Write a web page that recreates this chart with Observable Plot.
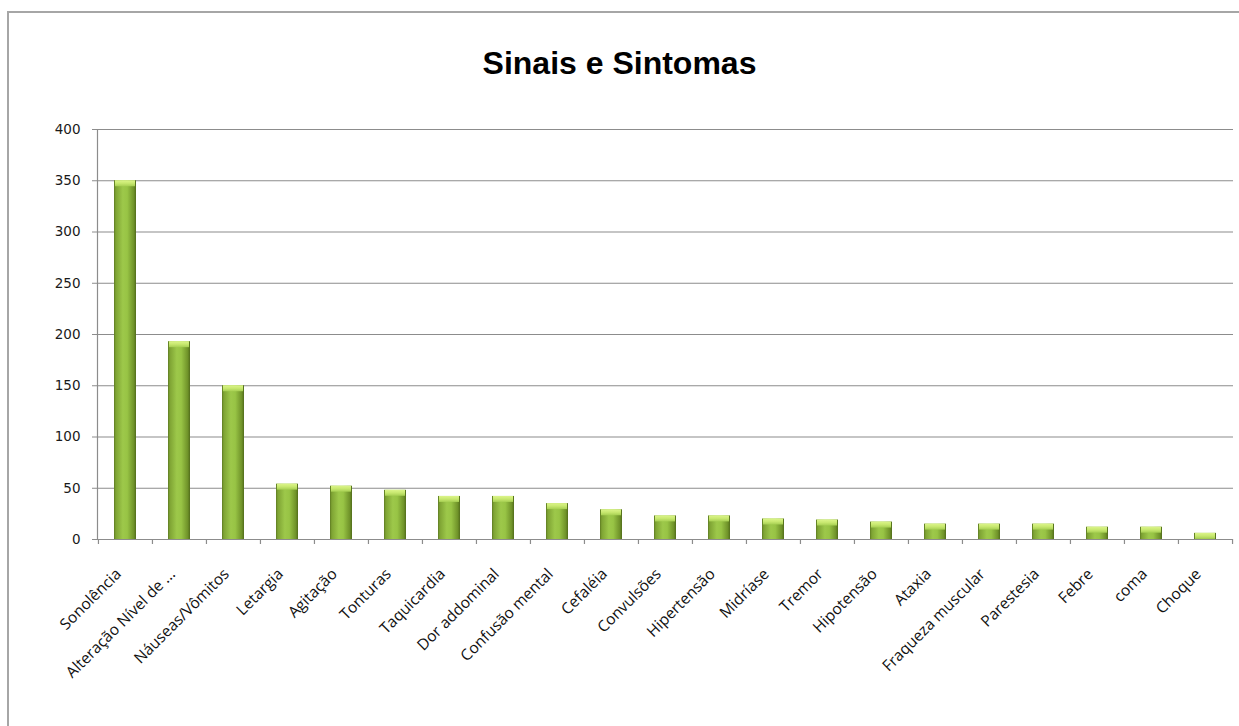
<!DOCTYPE html>
<html>
<head>
<meta charset="utf-8">
<script src="https://cdn.jsdelivr.net/npm/d3@7"></script>
<script src="https://cdn.jsdelivr.net/npm/@observablehq/plot@0.6"></script>
<style>
  html, body { margin: 0; padding: 0; background: #fff; width: 1239px; height: 726px; overflow: hidden; }
  #wrap { position: relative; width: 1239px; height: 726px; }
  #frame { position: absolute; left: 7px; top: 11px; width: 1240px; height: 730px;
           border-left: 2px solid #a6a6a6; border-top: 2px solid #a6a6a6; box-sizing: border-box; }
  #title { position: absolute; left: 0; width: 1239px; top: 45px; text-align: center;
           font-family: "Liberation Sans", Arial, sans-serif; font-weight: bold; font-size: 32px; color: #000; }
  #chart { position: absolute; left: 0; top: 0; }
</style>
</head>
<body>
<div id="wrap">
  <div id="frame"></div>
  <div id="chart"></div>
  <div id="title">Sinais e Sintomas</div>
</div>
<script>
const categories = ["Sonolência", "Alteração Nível de ...", "Náuseas/Vômitos", "Letargia", "Agitação",
  "Tonturas", "Taquicardia", "Dor addominal", "Confusão mental", "Cefaléia", "Convulsões",
  "Hipertensão", "Midríase", "Tremor", "Hipotensão", "Ataxia", "Fraqueza muscular",
  "Parestesia", "Febre", "coma", "Choque"];
const values = [350, 193, 150, 54, 52, 48, 42, 42, 35, 29, 23, 23, 20, 19, 17, 15, 15, 15, 12, 12, 6];
const yTicks = [0, 50, 100, 150, 200, 250, 300, 350, 400];

const data = categories.map((c, i) => ({cat: c, v: values[i]}));

const W = 1239, H = 726;
const mL = 97, mR = 6, mT = 129, mB = 187;
const band = (W - mL - mR) / categories.length;
const axisGray = "#8c8c8c";

const plot = Plot.plot({
  width: W, height: H,
  marginLeft: mL, marginRight: mR, marginTop: mT, marginBottom: mB,
  style: {fontFamily: "'Open Sans', sans-serif", fontSize: "12px", color: "#222", background: "transparent"},
  x: {domain: categories, paddingInner: 0.585, paddingOuter: 0.2925, align: 0.5, label: null},
  y: {domain: [0, 400], ticks: yTicks, label: null},
  marks: [
    Plot.gridY(yTicks, {stroke: axisGray, strokeOpacity: 1, strokeWidth: 1.2}),
    Plot.axisY({ticks: yTicks, tickSize: 5, tickPadding: 12, stroke: axisGray, fontSize: 13.5,
                fontFamily: "'DejaVu Sans', sans-serif", fill: "#1a1a1a"}),
    Plot.axisX({tickSize: 0, tickRotate: -45, tickPadding: 32, dx: -7, fontSize: 15.5,
                fontFamily: "'Open Sans', sans-serif", fill: "#111"}),
    Plot.barY(data, {x: "cat", y: "v", fill: "url(#barGrad)", style: "filter:url(#shadow)"}),
    Plot.barY(data, {x: "cat", y1: "v", y2: "v", insetBottom: -6, insetLeft: 1, insetRight: 1, fill: "url(#capGrad)"}),
    Plot.ruleX(categories, {x: d => d, y1: 0, y2: 0, dx: -band / 2, insetBottom: -5, stroke: axisGray, strokeWidth: 1.2}),
    Plot.ruleX([categories[categories.length - 1]], {x: d => d, y1: 0, y2: 0, dx: band / 2, insetBottom: -5, stroke: axisGray, strokeWidth: 1.2}),
    Plot.frame({anchor: "left", stroke: axisGray, strokeWidth: 1.2}),
    Plot.ruleY([0], {stroke: axisGray, strokeWidth: 1.2})
  ]
});

// gradients for the bevelled green bars
const svg = d3.select(plot);
const defs = svg.insert("defs", ":first-child");
const g = defs.append("linearGradient").attr("id", "barGrad").attr("x1", "0").attr("x2", "1").attr("y1", "0").attr("y2", "0");
[[0, "#5d7a22"], [0.08, "#7ea333"], [0.4, "#9dc84a"], [0.6, "#98c445"], [0.9, "#6f9229"], [1, "#516c1b"]]
  .forEach(([o, c]) => g.append("stop").attr("offset", o).attr("stop-color", c));
const cg = defs.append("linearGradient").attr("id", "capGrad").attr("x1", "0").attr("x2", "0").attr("y1", "0").attr("y2", "1");
[[0, "#dcf58a"], [0.5, "#c8e870"], [1, "#a6cf52"]]
  .forEach(([o, c]) => cg.append("stop").attr("offset", o).attr("stop-color", c));
const f = defs.append("filter").attr("id", "shadow").attr("x", "-20%").attr("y", "-5%").attr("width", "160%").attr("height", "110%");
f.append("feDropShadow").attr("dx", 2).attr("dy", 0).attr("stdDeviation", 1.5).attr("flood-color", "#000").attr("flood-opacity", 0.18);

document.getElementById("chart").appendChild(plot);
</script>
</body>
</html>
